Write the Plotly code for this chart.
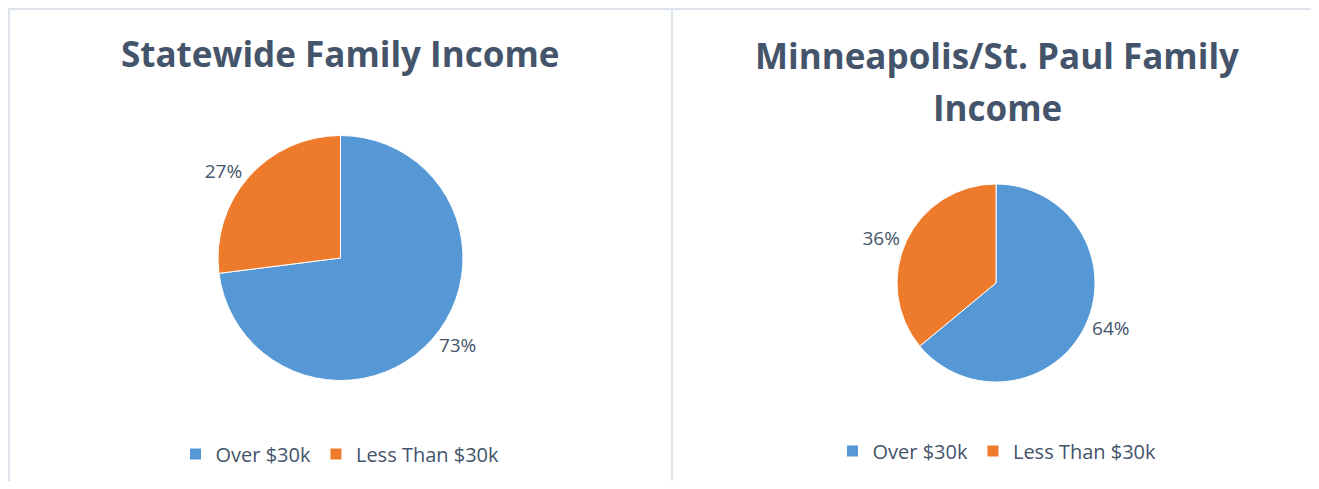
import plotly.graph_objects as go

labels = ["Over $30k", "Less Than $30k"]
statewide_values = [73, 27]
metro_values = [64, 36]
title_left = "Statewide Family Income"
title_right_lines = ["Minneapolis/St. Paul Family", "Income"]
colors = ["#5698D6", "#EE7B2C"]

# page body has an 8px margin; size the figure to fit the window
OFF = 8
W, H = 1319 - 2 * OFF, 489 - 2 * OFF
TXT = "#44546A"
FONT = "Open Sans"
BORDER = "#DDE3EA"


def px(x):
    return (x - OFF) / W


def py(y):
    return 1 - (y - OFF) / H


fig = go.Figure()

fig.add_trace(go.Pie(
    labels=labels, values=statewide_values, sort=False, direction="clockwise",
    rotation=0, marker=dict(colors=colors, line=dict(color="#FFFFFF", width=1)),
    textposition="outside", texttemplate="%{percent:.0%}",
    textfont=dict(family=FONT, size=19, color=TXT),
    domain=dict(x=[px(218), px(463)], y=[py(380.5), py(135.5)]),
    legend="legend", legendgroup="left", showlegend=True, hoverinfo="label+percent",
))
fig.add_trace(go.Pie(
    labels=labels, values=metro_values, sort=False, direction="clockwise",
    rotation=0, marker=dict(colors=colors, line=dict(color="#FFFFFF", width=1)),
    textposition="outside", texttemplate="%{percent:.0%}",
    textfont=dict(family=FONT, size=19, color=TXT),
    domain=dict(x=[px(897), px(1095)], y=[py(382), py(184)]),
    legend="legend2", legendgroup="right", showlegend=True, hoverinfo="label+percent",
))

legend_style = dict(orientation="h", xanchor="center", yanchor="middle",
                    font=dict(family=FONT, size=20, color=TXT),
                    bgcolor="rgba(0,0,0,0)", itemwidth=30, traceorder="normal")

title_font = dict(family=FONT, size=35, color=TXT)

fig.update_layout(
    width=W, height=H,
    margin=dict(l=0, r=0, t=0, b=0),
    paper_bgcolor="white", plot_bgcolor="white",
    legend=dict(x=px(340), y=py(454), **legend_style),
    legend2=dict(x=px(997), y=py(451), **legend_style),
    annotations=[
        dict(text="<b>" + title_left + "</b>", x=px(340), y=py(54), xref="paper", yref="paper",
             showarrow=False, xanchor="center", yanchor="middle", font=title_font),
        dict(text="<b>" + title_right_lines[0] + "</b>", x=px(997), y=py(55), xref="paper",
             yref="paper", showarrow=False, xanchor="center", yanchor="middle", font=title_font),
        dict(text="<b>" + title_right_lines[1] + "</b>", x=px(997), y=py(108), xref="paper",
             yref="paper", showarrow=False, xanchor="center", yanchor="middle", font=title_font),
    ],
    shapes=[
        dict(type="line", xref="paper", yref="paper", x0=px(7), x1=1, y0=py(9), y1=py(9),
             line=dict(color=BORDER, width=2)),
        dict(type="line", xref="paper", yref="paper", x0=px(9), x1=px(9), y0=0, y1=py(9),
             line=dict(color=BORDER, width=2)),
        dict(type="line", xref="paper", yref="paper", x0=px(672), x1=px(672), y0=0, y1=py(9),
             line=dict(color=BORDER, width=2)),
    ],
)

fig.write_html("out.html")
